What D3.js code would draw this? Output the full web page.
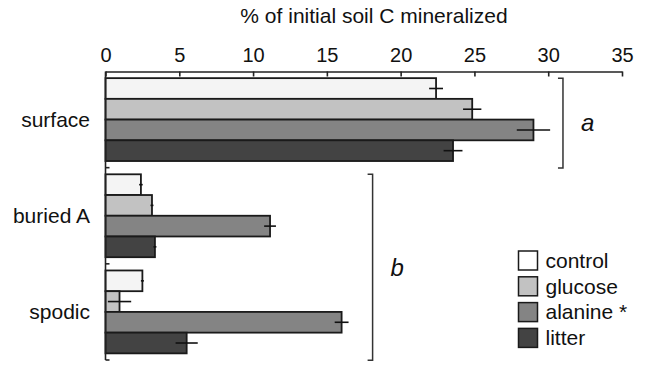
<!DOCTYPE html>
<html>
<head>
<meta charset="utf-8">
<script src="https://cdn.jsdelivr.net/npm/d3@7"></script>
<style>
  body { margin: 0; background: #fff; }
  svg { display: block; font-family: "Liberation Sans", Arial, Helvetica, sans-serif; }
</style>
</head>
<body>
<svg width="651" height="365"></svg>
<script>
// data
const categories = ["surface", "buried A", "spodic"]
const treatments = ["control", "glucose", "alanine", "litter"]
const legendLabels = ["control", "glucose", "alanine *", "litter"]

const control = [22.4, 2.4, 2.5]
const glucose = [24.85, 3.15, 0.95]
const alanine = [29.0, 11.15, 16.0]
const litter = [23.55, 3.35, 5.5]

const controlErr = [0.47, 0.12, 0.1]
const glucoseErr = [0.62, 0.1, 0.79]
const alanineErr = [1.13, 0.4, 0.47]
const litterErr = [0.64, 0.1, 0.75]

const xTicks = [0, 5, 10, 15, 20, 25, 30, 35]

// significance groups: [label, first category, last category, x position]
const groups = [
    ["a", "surface", "surface", 31.0],
    ["b", "buried A", "spodic", 18.1]
]

const values = { control, glucose, alanine, litter }
const errors = { control: controlErr, glucose: glucoseErr, alanine: alanineErr, litter: litterErr }

const rows = []
categories.forEach((c, i) => {
    treatments.forEach(t => {
        rows.push({ category: c, treatment: t, value: values[t][i], err: errors[t][i] })
    })
})

const svg = d3.select("svg")

const x = d3.scaleLinear().domain([0, 35]).range([105.5, 622])
const yGroup = d3.scaleBand().domain(categories).range([71.5, 360]).padding(0)
const ySub = d3.scaleBand().domain(treatments).range([0, yGroup.bandwidth()]).paddingInner(0).paddingOuter(0.32)

const color = d3.scaleOrdinal()
    .domain(treatments)
    .range(["#f4f4f4", "#c2c2c2", "#848484", "#434343"])

// title
svg.append("text")
    .attr("x", 374)
    .attr("y", 23)
    .attr("text-anchor", "middle")
    .attr("font-size", 21)
    .attr("fill", "#111")
    .text("% of initial soil C mineralized")

// bars
const bars = svg.append("g").attr("class", "bars")
bars.selectAll("rect")
    .data(rows)
    .enter().append("rect")
    .attr("x", x(0))
    .attr("y", d => yGroup(d.category) + ySub(d.treatment))
    .attr("width", d => x(d.value) - x(0))
    .attr("height", ySub.bandwidth())
    .attr("fill", d => color(d.treatment))
    .attr("stroke", "#1a1a1a")
    .attr("stroke-width", 1.8)

// error bars
bars.selectAll("line")
    .data(rows)
    .enter().append("line")
    .attr("x1", d => x(d.value - d.err))
    .attr("x2", d => x(d.value + d.err))
    .attr("y1", d => yGroup(d.category) + ySub(d.treatment) + ySub.bandwidth() / 2)
    .attr("y2", d => yGroup(d.category) + ySub(d.treatment) + ySub.bandwidth() / 2)
    .attr("stroke", "#111")
    .attr("stroke-width", 1.6)

// top axis, ticks pointing into the plot
const xAxis = svg.append("g")
    .attr("transform", `translate(0,${yGroup.range()[0]})`)
    .call(d3.axisTop(x).tickValues(xTicks).tickSize(-5).tickPadding(10).tickSizeOuter(0))
xAxis.select(".domain").attr("stroke", "#222").attr("stroke-width", 1.6)
xAxis.selectAll(".tick line").attr("stroke", "#222").attr("stroke-width", 1.6)
xAxis.selectAll(".tick text")
    .attr("font-size", 20)
    .attr("font-family", "Liberation Sans, Arial, Helvetica, sans-serif")
    .attr("fill", "#111")

// left axis: line plus ticks at group boundaries
const yRange = yGroup.range()
const left = svg.append("g")
left.append("line")
    .attr("x1", x(0)).attr("x2", x(0))
    .attr("y1", yRange[0]).attr("y2", yRange[1])
    .attr("stroke", "#222").attr("stroke-width", 1.6)
const bounds = categories.slice(1).map(c => yGroup(c)).concat([yRange[1]])
left.selectAll(".btick")
    .data(bounds)
    .enter().append("line")
    .attr("class", "btick")
    .attr("x1", x(0)).attr("x2", x(0) + 4)
    .attr("y1", d => d).attr("y2", d => d)
    .attr("stroke", "#222").attr("stroke-width", 1.6)

left.selectAll("text")
    .data(categories)
    .enter().append("text")
    .attr("x", 90)
    .attr("y", d => yGroup(d) + yGroup.bandwidth() / 2)
    .attr("dy", "0.35em")
    .attr("text-anchor", "end")
    .attr("font-size", 21)
    .attr("fill", "#111")
    .text(d => d)

// significance brackets
const brackets = svg.append("g")
groups.forEach(([label, first, last, xv]) => {
    const top = yGroup(first) + ySub("control")
    const bottom = yGroup(last) + ySub("litter") + ySub.bandwidth() + 7
    const bx = x(xv)
    brackets.append("path")
        .attr("d", `M${bx - 5},${top}H${bx}V${bottom}H${bx - 5}`)
        .attr("fill", "none")
        .attr("stroke", "#333")
        .attr("stroke-width", 1.5)
    brackets.append("text")
        .attr("x", bx + 18)
        .attr("y", (top + bottom) / 2)
        .attr("dy", "0.35em")
        .attr("font-size", 24)
        .attr("font-style", "italic")
        .attr("fill", "#111")
        .text(label)
})

// legend
const legend = svg.append("g").attr("transform", "translate(518.5,251)")
const item = legend.selectAll("g")
    .data(treatments)
    .enter().append("g")
    .attr("transform", (d, i) => `translate(0,${i * 25.8})`)
item.append("rect")
    .attr("width", 19)
    .attr("height", 19)
    .attr("fill", d => d === "control" ? "#fff" : color(d))
    .attr("stroke", "#1a1a1a")
    .attr("stroke-width", 1.5)
item.append("text")
    .attr("x", 27)
    .attr("y", 9.5)
    .attr("dy", "0.35em")
    .attr("font-size", 21)
    .attr("fill", "#111")
    .text((d, i) => legendLabels[i])
</script>
</body>
</html>
